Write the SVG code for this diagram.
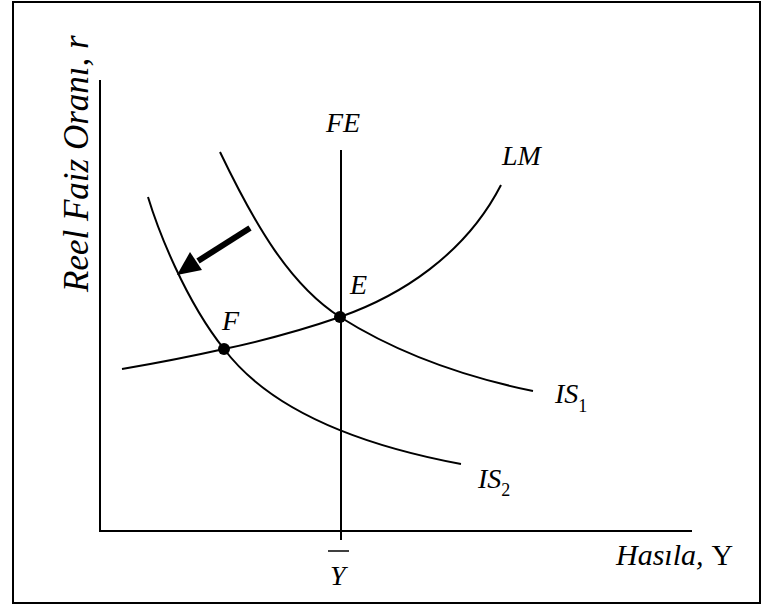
<svg xmlns="http://www.w3.org/2000/svg" width="763" height="605" viewBox="0 0 763 605">
<rect x="13" y="2" width="747" height="601" fill="#fff" stroke="#000" stroke-width="2"/>
<g id="axes">
<path fill="none" stroke="#000" stroke-width="2" d="M100,80 V531 H692"/>
</g>
<g id="connectors" fill="none" stroke="#000" stroke-width="2">
<path id="fe" d="M341,150 V540"/>
<path id="lm" d="M122,369 Q175,360 224,349 Q285,336 340,317 C400,296 465,255 501,185"/>
<path id="is1" d="M220,152 C255,225 290,285 340,317 C400,355 470,378 533,391"/>
<path id="is2" d="M148,197 C158,230 185,300 224,349 C270,410 360,445 461,464"/>
<path id="shift" stroke-width="6" d="M250,228 L198,261"/>
<polygon id="shift-head" fill="#000" stroke="none" points="177,275 190,252 202,270"/>
</g>
<g id="E"><circle fill="#000" cx="340" cy="317" r="6"/><text x="350" y="294" font-family="serif" font-style="italic" font-size="28">E</text></g>
<g id="F"><circle fill="#000" cx="224" cy="349" r="6"/><text x="222" y="330" font-family="serif" font-style="italic" font-size="28">F</text></g>
<g id="labels">
<text x="343" y="132" text-anchor="middle" font-family="serif" font-style="italic" font-size="28">FE</text>
<text x="502" y="165" font-family="serif" font-style="italic" font-size="28">LM</text>
<text x="555" y="403" font-family="serif" font-style="italic" font-size="28">IS<tspan font-style="normal" font-size="18" dy="9">1</tspan></text>
<text x="478" y="488" font-family="serif" font-style="italic" font-size="28">IS<tspan font-style="normal" font-size="18" dy="8">2</tspan></text>
<text x="330" y="585" font-family="serif" font-style="italic" font-size="28">Y</text>
<line x1="328" y1="551" x2="349" y2="551" stroke="#000" stroke-width="1.5"/>
<text x="616" y="565" font-family="serif" font-style="italic" font-size="30">Hasıla,<tspan font-style="normal" dx="8">Y</tspan></text>
<text transform="translate(88,292) rotate(-90)" font-family="serif" font-style="italic" font-size="35">Reel Faiz Oranı, r</text>
</g>
</svg>
